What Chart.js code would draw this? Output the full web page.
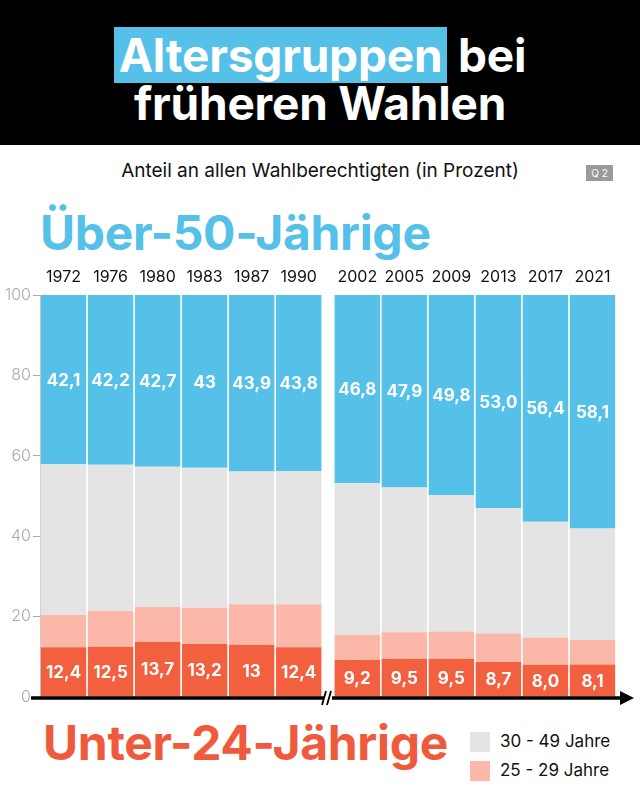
<!DOCTYPE html>
<html><head><meta charset="utf-8">
<script src="https://cdn.jsdelivr.net/npm/chart.js@4.4.1/dist/chart.umd.min.js"></script>
<style>
html,body{margin:0;padding:0;background:#fff;width:640px;height:800px;overflow:hidden;font-family:Inter,"Noto Sans",sans-serif;}
#head{position:absolute;left:0;top:0;width:640px;height:145px;background:#000;}
.tl{position:absolute;left:0;width:640px;text-align:center;color:#fff;font-weight:700;font-size:46px;line-height:52px;letter-spacing:-0.2px;}
.hl{background:#55c0e8;padding:0 5px;}
#sub{position:absolute;left:0;width:640px;top:159px;text-align:center;font-size:19px;color:#111;}
#q2{position:absolute;left:586px;top:165px;width:27px;height:16px;background:#9a9a9a;color:#fff;font-size:10px;line-height:16px;text-align:center;}
.big{position:absolute;font-weight:700;font-size:48px;letter-spacing:-0.3px;}
#over{left:40px;top:203px;color:#55c0e8;}
#under{left:43px;top:713px;color:#ef5a3c;}
.lg{position:absolute;left:470px;width:20px;height:20px;}
.lt{position:absolute;left:500px;font-size:17px;color:#111;}
#c{position:absolute;left:0;top:255px;}
</style></head>
<body>
<div id="head">
  <div class="tl" style="top:29px;"><span class="hl">Altersgruppen</span> bei</div>
  <div class="tl" style="top:77px;">früheren Wahlen</div>
</div>
<div id="sub">Anteil an allen Wahlberechtigten (in Prozent)</div>
<div id="q2">Q 2</div>
<div class="big" id="over">Über-50-Jährige</div>
<div class="big" id="under">Unter-24-Jährige</div>
<div class="lg" style="top:732px;background:#e4e4e4;"></div>
<div class="lt" style="top:731px;">30 - 49 Jahre</div>
<div class="lg" style="top:761px;background:#fbb8a8;"></div>
<div class="lt" style="top:760px;">25 - 29 Jahre</div>
<canvas id="c" width="640" height="460"></canvas>
<script>
const years = ["1972","1976","1980","1983","1987","1990","2002","2005","2009","2013","2017","2021"];
const under24 = [12.4,12.5,13.7,13.2,13,12.4,9.2,9.5,9.5,8.7,8.0,8.1];
const age25to29 = [8.0,8.9,8.7,9.0,10.1,10.7,6.3,6.6,6.8,7.1,6.8,6.1];
const age30to49 = [37.5,36.4,34.9,34.8,33.0,33.1,37.7,36.0,33.9,31.2,28.8,27.7];
const over50 = [42.1,42.2,42.7,43,43.9,43.8,46.8,47.9,49.8,53.0,56.4,58.1];
const under24Labels = ["12,4","12,5","13,7","13,2","13","12,4","9,2","9,5","9,5","8,7","8,0","8,1"];
const over50Labels = ["42,1","42,2","42,7","43","43,9","43,8","46,8","47,9","49,8","53,0","56,4","58,1"];
const yTicks = [0,20,40,60,80,100];

const GAP = 0.245; // extra space at the axis break
const xPos = years.map((y,i)=> i + (i>=6 ? GAP : 0));
const pts = arr => arr.map((v,i)=>({x:xPos[i], y:v}));

const labelPlugin = {
  id:'lbl',
  afterDatasetsDraw(chart){
    const ctx = chart.ctx;
    ctx.save();
    ctx.fillStyle = '#fff';
    ctx.font = '700 17px Inter, sans-serif';
    ctx.textAlign = 'center';
    ctx.textBaseline = 'middle';
    [[0,under24Labels],[3,over50Labels]].forEach(([di,labs])=>{
      chart.getDatasetMeta(di).data.forEach((bar,i)=>{
        const p = bar.getProps(['x','y','base'], true);
        ctx.fillText(labs[i], p.x, (p.y+p.base)/2 + 1);
      });
    });
    ctx.restore();
  }
};
const axisPlugin = {
  id:'arrow',
  afterDraw(chart){
    const ctx = chart.ctx;
    const y0 = chart.scales.y.getPixelForValue(0) + 1;
    const xs = chart.scales.x;
    const xb = (xs.getPixelForValue(5.5) + xs.getPixelForValue(5.5+GAP))/2;
    ctx.save();
    ctx.strokeStyle = '#000'; ctx.lineWidth = 3.5;
    ctx.beginPath(); ctx.moveTo(31, y0); ctx.lineTo(xb-4, y0);
    ctx.moveTo(xb+4, y0); ctx.lineTo(624, y0); ctx.stroke();
    ctx.fillStyle = '#000';
    ctx.beginPath(); ctx.moveTo(634, y0); ctx.lineTo(620, y0-7); ctx.lineTo(620, y0+7); ctx.closePath(); ctx.fill();
    ctx.lineWidth = 1.8;
    ctx.beginPath();
    ctx.moveTo(xb-6, y0+7); ctx.lineTo(xb-2, y0-7);
    ctx.moveTo(xb-1, y0+7); ctx.lineTo(xb+3, y0-7);
    ctx.stroke();
    ctx.restore();
  }
};

new Chart(document.getElementById('c'), {
  type:'bar',
  data:{ datasets:[
    {label:'Unter 24', data:pts(under24), backgroundColor:'#f2603f'},
    {label:'25 - 29 Jahre', data:pts(age25to29), backgroundColor:'#fbb8a8'},
    {label:'30 - 49 Jahre', data:pts(age30to49), backgroundColor:'#e4e4e4'},
    {label:'Über 50', data:pts(over50), backgroundColor:'#55c0e8'}
  ]},
  options:{
    responsive:false, animation:false, devicePixelRatio:1,
    layout:{padding:{left:0,right:24,top:0,bottom:18}},
    datasets:{bar:{categoryPercentage:1, barPercentage:0.965, borderWidth:0}},
    plugins:{legend:{display:false}, tooltip:{enabled:false}},
    scales:{
      x:{type:'linear', position:'top', stacked:true, offset:false, min:-0.5, max:11.5+GAP,
        afterFit(s){ s.height = 40; },
        afterBuildTicks(s){ s.ticks = xPos.map(v=>({value:v})); },
        grid:{display:false, drawTicks:false}, border:{display:false},
        ticks:{autoSkip:false, maxRotation:0, padding:8, color:'#111',
          font:{family:'Inter', size:16},
          callback:(v,i)=>years[i]}
      },
      y:{stacked:true, min:0, max:100,
        afterFit(s){ s.width = 40; },
        afterBuildTicks(s){ s.ticks = yTicks.map(v=>({value:v})); },
        grid:{drawOnChartArea:false, tickLength:7, color:'#aaa'},
        border:{display:true, color:'#ccc'},
        ticks:{padding:2, color:'#aaa', font:{family:'Inter', size:16, weight:300}}
      }
    }
  },
  plugins:[labelPlugin, axisPlugin]
});
</script>
</body></html>
